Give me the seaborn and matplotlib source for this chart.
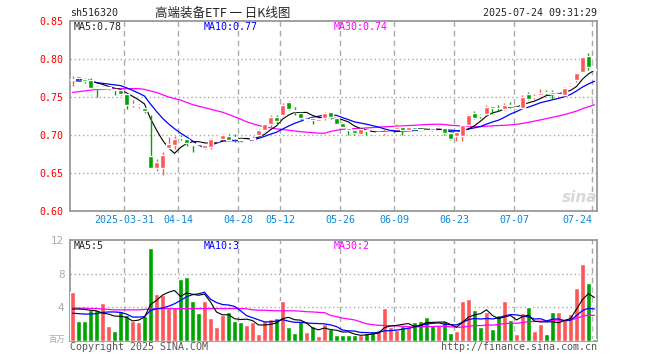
import numpy as np
import pandas as pd
import seaborn as sns
import matplotlib.pyplot as plt

sns.set_style('white')
plt.rcParams['font.family'] = ['DejaVu Sans Mono', 'Noto Sans CJK SC']

# dias de pregao (feriados da bolsa chinesa fora)
feriados = ['2025-04-04', '2025-05-01', '2025-05-02', '2025-05-05', '2025-06-02']

abertura = [0.773, 0.777, 0.774, 0.772, 0.763, 0.762, 0.762, 0.760, 0.759, 0.754,
            0.740, 0.738, 0.735, 0.672, 0.657, 0.657, 0.683, 0.687, 0.697, 0.695,
            0.688, 0.689, 0.683, 0.684, 0.692, 0.695, 0.699, 0.697, 0.695, 0.692,
            0.695, 0.700, 0.707, 0.714, 0.724, 0.726, 0.744, 0.733, 0.729, 0.720,
            0.723, 0.719, 0.722, 0.730, 0.722, 0.716, 0.709, 0.706, 0.701, 0.706,
            0.702, 0.703, 0.703, 0.703, 0.708, 0.710, 0.706, 0.710, 0.708, 0.707,
            0.709, 0.710, 0.709, 0.702, 0.699, 0.699, 0.713, 0.729, 0.726, 0.727,
            0.738, 0.736, 0.734, 0.740, 0.736, 0.736, 0.754, 0.751, 0.752, 0.757,
            0.757, 0.752, 0.752, 0.766, 0.772, 0.783, 0.804, 0.787]
maxima = [0.777, 0.778, 0.775, 0.775, 0.765, 0.765, 0.764, 0.761, 0.761, 0.754,
          0.746, 0.741, 0.736, 0.726, 0.668, 0.677, 0.697, 0.699, 0.700, 0.695,
          0.688, 0.690, 0.687, 0.696, 0.694, 0.701, 0.701, 0.701, 0.698, 0.695,
          0.699, 0.708, 0.715, 0.726, 0.726, 0.742, 0.745, 0.737, 0.729, 0.722,
          0.723, 0.722, 0.730, 0.730, 0.723, 0.717, 0.709, 0.706, 0.709, 0.706,
          0.703, 0.704, 0.708, 0.705, 0.715, 0.710, 0.711, 0.710, 0.709, 0.709,
          0.709, 0.712, 0.709, 0.702, 0.704, 0.713, 0.727, 0.731, 0.728, 0.739,
          0.738, 0.739, 0.742, 0.743, 0.737, 0.752, 0.757, 0.754, 0.760, 0.759,
          0.759, 0.756, 0.763, 0.769, 0.782, 0.802, 0.808, 0.787]
minimas = [0.765, 0.772, 0.769, 0.761, 0.750, 0.760, 0.759, 0.752, 0.752, 0.734,
           0.737, 0.736, 0.729, 0.656, 0.653, 0.647, 0.681, 0.682, 0.694, 0.686,
           0.678, 0.687, 0.681, 0.682, 0.691, 0.694, 0.692, 0.691, 0.691, 0.692,
           0.693, 0.699, 0.705, 0.711, 0.715, 0.725, 0.733, 0.726, 0.720, 0.719,
           0.715, 0.718, 0.720, 0.721, 0.714, 0.710, 0.700, 0.700, 0.700, 0.700,
           0.700, 0.702, 0.700, 0.702, 0.707, 0.700, 0.705, 0.706, 0.706, 0.705,
           0.705, 0.709, 0.700, 0.693, 0.692, 0.692, 0.712, 0.721, 0.722, 0.726,
           0.728, 0.731, 0.733, 0.735, 0.734, 0.734, 0.746, 0.748, 0.751, 0.753,
           0.747, 0.751, 0.751, 0.764, 0.770, 0.783, 0.786, 0.786]
fechamento = [0.774, 0.775, 0.771, 0.762, 0.762, 0.763, 0.762, 0.759, 0.754, 0.739,
              0.741, 0.739, 0.731, 0.657, 0.665, 0.674, 0.688, 0.695, 0.696, 0.690,
              0.687, 0.688, 0.687, 0.695, 0.693, 0.700, 0.694, 0.696, 0.694, 0.693,
              0.696, 0.707, 0.714, 0.724, 0.719, 0.740, 0.734, 0.732, 0.722, 0.721,
              0.720, 0.721, 0.729, 0.724, 0.715, 0.711, 0.707, 0.702, 0.708, 0.705,
              0.701, 0.703, 0.704, 0.704, 0.711, 0.706, 0.710, 0.708, 0.707, 0.706,
              0.707, 0.711, 0.702, 0.695, 0.704, 0.713, 0.726, 0.723, 0.725, 0.737,
              0.735, 0.735, 0.740, 0.738, 0.736, 0.750, 0.748, 0.751, 0.755, 0.756,
              0.754, 0.754, 0.762, 0.767, 0.782, 0.802, 0.789, 0.786]
# volume em milhoes
volume = [5.84, 2.36, 2.36, 3.68, 3.68, 4.52, 1.76, 1.16, 3.56, 3.08,
          2.36, 2.24, 2.96, 11.0, 5.6, 5.48, 3.92, 4.04, 7.4, 7.64,
          4.76, 3.32, 4.76, 2.72, 1.64, 3.08, 3.44, 2.36, 2.24, 1.88,
          2.24, 0.8, 2.36, 2.6, 2.72, 4.76, 1.64, 0.92, 2.36, 1.04,
          1.76, 0.56, 2.0, 1.4, 0.68, 0.68, 0.68, 0.68, 0.68, 0.92,
          1.16, 1.28, 3.92, 1.64, 1.28, 1.76, 1.76, 2.24, 2.36, 2.84,
          1.88, 1.88, 2.36, 0.92, 1.16, 4.76, 5.0, 3.68, 1.64, 3.44,
          1.4, 3.08, 4.76, 2.48, 0.8, 3.32, 4.04, 1.16, 2.0, 0.8,
          3.44, 3.44, 2.48, 3.2, 6.32, 9.2, 6.92, 0.2]

# medias lidas do grafico nos primeiros dias (historico anterior nao aparece)
ma5_inicio = [0.772, 0.773, 0.773, 0.772]
ma10_inicio = [0.772, 0.771, 0.771, 0.770, 0.769, 0.768, 0.767, 0.766, 0.765]
ma30_inicio = [0.756, 0.757, 0.758, 0.759, 0.760, 0.760, 0.761, 0.761, 0.761, 0.761,
               0.761, 0.761, 0.760, 0.758, 0.756, 0.753, 0.750, 0.748, 0.746, 0.743,
               0.740, 0.738, 0.736, 0.734, 0.732, 0.730, 0.727, 0.724, 0.721]
vma5_inicio = [3.8, 3.8, 3.75, 3.65]
vma10_inicio = [3.3, 3.25, 3.2, 3.2, 3.25, 3.4, 3.45, 3.45, 3.4]
vma30_inicio = [3.95, 3.9, 3.9, 3.85, 3.85, 3.8, 3.75, 3.7, 3.7, 3.7,
                3.7, 3.7, 3.75, 3.8, 3.85, 3.85, 3.85, 3.85, 3.85, 3.85,
                3.85, 3.85, 3.85, 3.85, 3.85, 3.85, 3.85, 3.85, 3.85]

datas_eixo = ['2025-03-31', '2025-04-14', '2025-04-28', '2025-05-12', '2025-05-26',
              '2025-06-09', '2025-06-23', '2025-07-07', '2025-07-24']
rotulos_eixo = ['2025-03-31', '04-14', '04-28', '05-12', '05-26',
                '06-09', '06-23', '07-07', '07-24']

dias = pd.bdate_range('2025-03-18', '2025-07-24')
dias = dias[~dias.isin(pd.to_datetime(feriados))]

dados = pd.DataFrame({'dia': dias, 'o': abertura, 'h': maxima, 'l': minimas,
                      'c': fechamento, 'vol': volume})
dados['x'] = np.arange(len(dados))
inicios = {'ma5': ma5_inicio, 'ma10': ma10_inicio, 'ma30': ma30_inicio,
           'vma5': vma5_inicio, 'vma10': vma10_inicio, 'vma30': vma30_inicio}
for n in (5, 10, 30):
    dados[f'ma{n}'] = dados['c'].rolling(n).mean()
    dados[f'vma{n}'] = dados['vol'].rolling(n).mean()
    dados.loc[:n - 2, f'ma{n}'] = inicios[f'ma{n}']
    dados.loc[:n - 2, f'vma{n}'] = inicios[f'vma{n}']

pos_eixo = [int(np.where(dados['dia'] == pd.Timestamp(d))[0][0]) for d in datas_eixo]

VERM = '#ff5757'
VERDE = '#00a400'
alta = dados['c'] >= dados['o']
cores = np.where(alta, VERM, VERDE)

W, H = 660, 360
fig = plt.figure(figsize=(6.6, 3.6), dpi=100)
ax1 = fig.add_axes([70 / W, 1 - 211 / H, 527 / W, 190 / H])
ax2 = fig.add_axes([70 / W, 1 - 341 / H, 527 / W, 101 / H])

sns.lineplot(data=dados, x='x', y='ma30', ax=ax1, color='#ff00ff', lw=0.9, zorder=3)
sns.lineplot(data=dados, x='x', y='ma10', ax=ax1, color='#0000ff', lw=0.9, zorder=3)
sns.lineplot(data=dados, x='x', y='ma5', ax=ax1, color='black', lw=0.8, zorder=3)

# candles
ax1.vlines(dados['x'], dados['l'], dados['h'], colors=cores, lw=1, zorder=5)
corpo = (dados['c'] - dados['o']).abs().to_numpy()
base = np.minimum(dados['c'], dados['o']).to_numpy()
fino = corpo < 0.0012
base = np.where(fino, base - (0.0012 - corpo) / 2, base)
corpo = np.where(fino, 0.0012, corpo)
ax1.bar(dados['x'], corpo, bottom=base, width=0.85, color=cores, zorder=5)

# volume
ax2.bar(dados['x'], dados['vol'], width=0.85, color=cores, zorder=3)
sns.lineplot(data=dados, x='x', y='vma30', ax=ax2, color='#ff00ff', lw=0.9, zorder=4)
sns.lineplot(data=dados, x='x', y='vma10', ax=ax2, color='#0000ff', lw=0.9, zorder=4)
sns.lineplot(data=dados, x='x', y='vma5', ax=ax2, color='black', lw=0.8, zorder=4)

for ax in (ax1, ax2):
    ax.set_xlim(-0.42, len(dados) - 0.58)
    for p in pos_eixo:
        ax.axvline(p - 0.4, color='#aaaaaa', lw=1, ls=(0, (4, 3)), zorder=1)
    for s in ax.spines.values():
        s.set_color('#999999')
        s.set_linewidth(1.3)
    ax.set_xlabel('')
    ax.set_ylabel('')
    ax.tick_params(length=0)

ax1.set_ylim(0.60, 0.85)
niveis = [0.60, 0.65, 0.70, 0.75, 0.80, 0.85]
for v in niveis[1:-1]:
    ax1.axhline(v, color='#aaaaaa', lw=1, ls=(0, (1, 2)), zorder=1)
ax1.set_yticks(niveis)
ax1.set_yticklabels([f'{v:.2f}' for v in niveis], color='#ff0000', fontsize=7.2)
ax1.tick_params(axis='y', pad=5)
ax1.set_xticks([p - 0.4 for p in pos_eixo])
rot = ax1.set_xticklabels(rotulos_eixo, color='#0a88d8', fontsize=7.2)
rot[-1].set_ha('right')
ax1.tick_params(axis='x', pad=3)

ax2.set_ylim(0, 12)
for v in (4, 8):
    ax2.axhline(v, color='#aaaaaa', lw=1, ls=(0, (1, 2)), zorder=1)
ax2.set_yticks([4, 8, 12])
ax2.set_yticklabels(['4', '8', '12'], color='#aaaaaa', fontsize=7.5, family='DejaVu Sans')
ax2.tick_params(axis='y', pad=4)
ax2.set_xticks([])


def texto(x, y, s, **kw):
    fig.text(x / W, 1 - y / H, s, va='center', **kw)


texto(70, 13, 'sh516320', fontsize=7.2)
texto(223, 13, '高端装备ETF 一 日K线图', ha='center', fontsize=9,
      family=['Noto Sans CJK SC', 'DejaVu Sans'])
texto(597, 13, '2025-07-24 09:31:29', ha='right', fontsize=7.2)
texto(74, 27, 'MA5:0.78', fontsize=7.2)
texto(204, 27, 'MA10:0.77', fontsize=7.2, color='#0000ff')
texto(334, 27, 'MA30:0.74', fontsize=7.2, color='#ff00ff')
texto(74, 246, 'MA5:5', fontsize=7.2)
texto(204, 246, 'MA10:3', fontsize=7.2, color='#0000ff')
texto(334, 246, 'MA30:2', fontsize=7.2, color='#ff00ff')
texto(70, 347, 'Copyright 2025 SINA.COM', fontsize=7.2, color='#555555')
texto(597, 347, 'http://finance.sina.com.cn', ha='right', fontsize=7.2, color='#555555')
texto(57, 339, '百万', ha='center', fontsize=6, color='#aaaaaa',
      family=['Noto Sans CJK SC', 'DejaVu Sans'])
texto(580, 197, 'sina', ha='center', fontsize=11, color='#d8d8d8',
      family='DejaVu Sans', weight='bold', style='italic')

fig.savefig('out.png', dpi=100)
